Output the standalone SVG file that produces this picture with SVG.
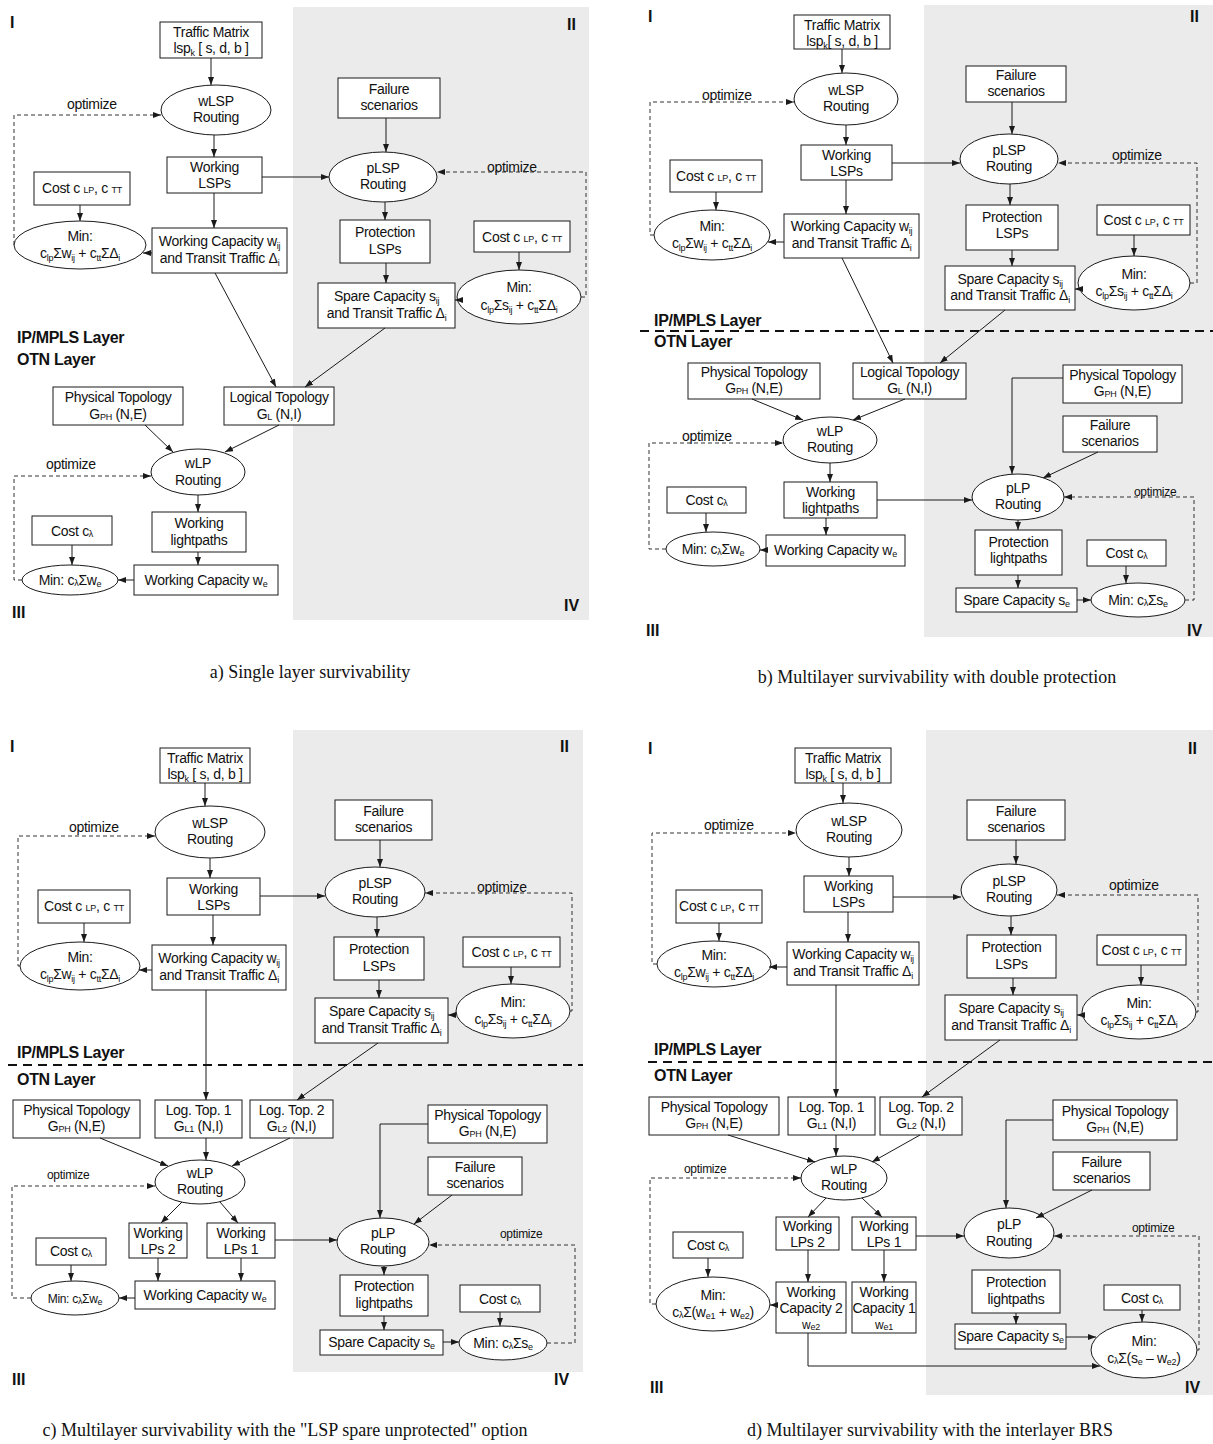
<svg xmlns="http://www.w3.org/2000/svg" width="1213" height="1444" viewBox="0 0 1213 1444">
<style>
.n rect,.n ellipse{fill:#fff;stroke:#1a1a1a;stroke-width:1}
text{font-family:"Liberation Sans",Arial,sans-serif;font-size:14px;fill:#111}
.n text{text-anchor:middle;letter-spacing:-0.3px}
.s{font-size:9px}
.q{font-weight:bold;font-size:16px}
.ly{font-weight:bold;font-size:16px;letter-spacing:-0.3px}
.o{font-size:14px;letter-spacing:-0.3px}
.os{font-size:12px;letter-spacing:-0.3px}
.sm{font-size:12px}
.cap{font-family:"Liberation Serif","Times New Roman",serif;font-size:18px;text-anchor:middle}
.bg{fill:#ebebeb}
.c path{fill:none;stroke:#1a1a1a;stroke-width:1;marker-end:url(#ah)}
.c path.d{stroke:#333;stroke-dasharray:4 3}
.lay{stroke:#111;stroke-width:2;stroke-dasharray:9 6}
</style>
<defs>
<marker id="ah" markerUnits="userSpaceOnUse" markerWidth="8" markerHeight="6" refX="8" refY="3" orient="auto"><path d="M0,0 L8,3 L0,6 z" fill="#1a1a1a"/></marker>
</defs>
<rect width="1213" height="1444" fill="#fff"/>

<!-- ===== PANEL A ===== -->
<g id="panel-a-bg">
<rect class="bg" x="293" y="7" width="296" height="613"/>
<text class="q" x="10" y="28">I</text>
<text class="q" x="567" y="30">II</text>
<text class="q" x="12" y="618">III</text>
<text class="q" x="564" y="611">IV</text>
<text class="ly" x="17" y="343">IP/MPLS  Layer</text>
<text class="ly" x="17" y="365">OTN  Layer</text>
<text class="o" x="67" y="109">optimize</text>
<text class="o" x="487" y="172">optimize</text>
<text class="o" x="46" y="469">optimize</text>
<text class="cap" x="310" y="678">a) Single layer survivability</text>
</g>
<g id="a-traffic" class="n"><rect x="160" y="22" width="102" height="36"/><text x="211" y="37">Traffic Matrix</text><text x="211" y="53">lsp<tspan class="s" dy="3">k</tspan><tspan dy="-3"> [ s, d, b ]</tspan></text></g>
<g id="a-wlsp" class="n"><ellipse cx="216" cy="110" rx="55" ry="25"/><text x="216" y="106">wLSP</text><text x="216" y="122">Routing</text></g>
<g id="a-wlsps" class="n"><rect x="167" y="157" width="95" height="36"/><text x="214.5" y="172">Working</text><text x="214.5" y="188">LSPs</text></g>
<g id="a-fail" class="n"><rect x="338" y="78" width="102" height="40"/><text x="389" y="94">Failure</text><text x="389" y="110">scenarios</text></g>
<g id="a-plsp" class="n"><ellipse cx="383" cy="177" rx="54" ry="25"/><text x="383" y="173">pLSP</text><text x="383" y="189">Routing</text></g>
<g id="a-cost1" class="n"><rect x="34" y="172" width="96" height="33"/><text x="82" y="193">Cost c <tspan class="s">LP</tspan>, c <tspan class="s">TT</tspan></text></g>
<g id="a-min1" class="n"><ellipse cx="80" cy="245" rx="66" ry="24"/><text x="80" y="241">Min:</text><text x="80" y="258">c<tspan class="s" dy="3">lp</tspan><tspan dy="-3">Σw</tspan><tspan class="s" dy="3">ij</tspan><tspan dy="-3"> + c</tspan><tspan class="s" dy="3">tt</tspan><tspan dy="-3">ΣΔ</tspan><tspan class="s" dy="3">i</tspan></text></g>
<g id="a-wc" class="n"><rect x="152" y="228" width="135" height="45"/><text x="219.5" y="246">Working Capacity w<tspan class="s" dy="3">ij</tspan></text><text x="219.5" y="263">and Transit Traffic Δ<tspan class="s" dy="3">i</tspan></text></g>
<g id="a-prot" class="n"><rect x="340" y="220" width="90" height="43"/><text x="385" y="237">Protection</text><text x="385" y="254">LSPs</text></g>
<g id="a-cost2" class="n"><rect x="474" y="221" width="96" height="31"/><text x="522" y="242">Cost c <tspan class="s">LP</tspan>, c <tspan class="s">TT</tspan></text></g>
<g id="a-min2" class="n"><ellipse cx="519" cy="297" rx="62" ry="27"/><text x="519" y="292">Min:</text><text x="519" y="310">c<tspan class="s" dy="3">lp</tspan><tspan dy="-3">Σs</tspan><tspan class="s" dy="3">ij</tspan><tspan dy="-3"> + c</tspan><tspan class="s" dy="3">tt</tspan><tspan dy="-3">ΣΔ</tspan><tspan class="s" dy="3">i</tspan></text></g>
<g id="a-spare" class="n"><rect x="318" y="283" width="137" height="45"/><text x="386.5" y="301">Spare Capacity s<tspan class="s" dy="3">ij</tspan></text><text x="386.5" y="318">and Transit Traffic Δ<tspan class="s" dy="3">i</tspan></text></g>
<g id="a-phys" class="n"><rect x="53" y="387" width="130" height="38"/><text x="118" y="402">Physical Topology</text><text x="118" y="419">G<tspan class="s" dy="1">PH</tspan><tspan dy="-1"> (N,E)</tspan></text></g>
<g id="a-log" class="n"><rect x="224" y="387" width="110" height="38"/><text x="279" y="402">Logical Topology</text><text x="279" y="419">G<tspan class="s" dy="1">L</tspan><tspan dy="-1"> (N,I)</tspan></text></g>
<g id="a-wlp" class="n"><ellipse cx="198" cy="472" rx="47" ry="23"/><text x="198" y="468">wLP</text><text x="198" y="485">Routing</text></g>
<g id="a-wlps" class="n"><rect x="152" y="512" width="94" height="40"/><text x="199" y="528">Working</text><text x="199" y="545">lightpaths</text></g>
<g id="a-costl" class="n"><rect x="32" y="516" width="80" height="29"/><text x="72" y="536">Cost c<tspan class="s" dy="1">λ</tspan></text></g>
<g id="a-minl" class="n"><ellipse cx="70" cy="580" rx="48" ry="15"/><text x="70" y="585">Min: c<tspan class="s" dy="1">λ</tspan><tspan dy="-1">Σw</tspan><tspan class="s" dy="2">e</tspan></text></g>
<g id="a-wce" class="n"><rect x="134" y="565" width="144" height="30"/><text x="206" y="585">Working Capacity w<tspan class="s" dy="2">e</tspan></text></g>

<!-- ===== PANEL B ===== -->
<g id="panel-b-bg">
<rect class="bg" x="924" y="5" width="289" height="632"/>
<text class="q" x="648" y="22">I</text>
<text class="q" x="1190" y="22">II</text>
<text class="q" x="646" y="636">III</text>
<text class="q" x="1187" y="636">IV</text>
<text class="ly" x="654" y="326">IP/MPLS  Layer</text>
<text class="ly" x="654" y="347">OTN  Layer</text>
<line class="lay" x1="640" y1="331" x2="1213" y2="331"/>
<text class="o" x="702" y="100">optimize</text>
<text class="o" x="1112" y="160">optimize</text>
<text class="o" x="682" y="441">optimize</text>
<text class="os" x="1134" y="496">optimize</text>
<text class="cap" x="937" y="683">b) Multilayer survivability with double protection</text>
</g>
<g id="b-traffic" class="n"><rect x="794" y="15" width="96" height="34"/><text x="842" y="30">Traffic Matrix</text><text x="842" y="46">lsp<tspan class="s" dy="3">k</tspan><tspan dy="-3">[ s, d, b ]</tspan></text></g>
<g id="b-wlsp" class="n"><ellipse cx="846" cy="99" rx="52" ry="26"/><text x="846" y="95">wLSP</text><text x="846" y="111">Routing</text></g>
<g id="b-wlsps" class="n"><rect x="801" y="145" width="91" height="35"/><text x="846.5" y="160">Working</text><text x="846.5" y="176">LSPs</text></g>
<g id="b-fail" class="n"><rect x="966" y="66" width="100" height="36"/><text x="1016" y="80">Failure</text><text x="1016" y="96">scenarios</text></g>
<g id="b-plsp" class="n"><ellipse cx="1009" cy="159" rx="49" ry="25"/><text x="1009" y="155">pLSP</text><text x="1009" y="171">Routing</text></g>
<g id="b-cost1" class="n"><rect x="670" y="160" width="92" height="32"/><text x="716" y="181">Cost c <tspan class="s">LP</tspan>, c <tspan class="s">TT</tspan></text></g>
<g id="b-min1" class="n"><ellipse cx="712" cy="235" rx="58" ry="25"/><text x="712" y="231">Min:</text><text x="712" y="248">c<tspan class="s" dy="3">lp</tspan><tspan dy="-3">Σw</tspan><tspan class="s" dy="3">ij</tspan><tspan dy="-3"> + c</tspan><tspan class="s" dy="3">tt</tspan><tspan dy="-3">ΣΔ</tspan><tspan class="s" dy="3">i</tspan></text></g>
<g id="b-wc" class="n"><rect x="784" y="214" width="135" height="44"/><text x="851.5" y="231">Working Capacity w<tspan class="s" dy="3">ij</tspan></text><text x="851.5" y="248">and Transit Traffic Δ<tspan class="s" dy="3">i</tspan></text></g>
<g id="b-prot" class="n"><rect x="966" y="205" width="92" height="45"/><text x="1012" y="222">Protection</text><text x="1012" y="238">LSPs</text></g>
<g id="b-cost2" class="n"><rect x="1097" y="205" width="93" height="30"/><text x="1143.5" y="225">Cost c <tspan class="s">LP</tspan>, c <tspan class="s">TT</tspan></text></g>
<g id="b-min2" class="n"><ellipse cx="1134" cy="283" rx="56" ry="27"/><text x="1134" y="279">Min:</text><text x="1134" y="296">c<tspan class="s" dy="3">lp</tspan><tspan dy="-3">Σs</tspan><tspan class="s" dy="3">ij</tspan><tspan dy="-3"> + c</tspan><tspan class="s" dy="3">tt</tspan><tspan dy="-3">ΣΔ</tspan><tspan class="s" dy="3">i</tspan></text></g>
<g id="b-spare" class="n"><rect x="945" y="266" width="130" height="44"/><text x="1010" y="284">Spare Capacity s<tspan class="s" dy="3">ij</tspan></text><text x="1010" y="300">and Transit Traffic Δ<tspan class="s" dy="3">i</tspan></text></g>
<g id="b-phys" class="n"><rect x="688" y="363" width="132" height="36"/><text x="754" y="377">Physical Topology</text><text x="754" y="393">G<tspan class="s" dy="1">PH</tspan><tspan dy="-1"> (N,E)</tspan></text></g>
<g id="b-log" class="n"><rect x="853" y="363" width="113" height="36"/><text x="909.5" y="377">Logical Topology</text><text x="909.5" y="393">G<tspan class="s" dy="1">L</tspan><tspan dy="-1"> (N,I)</tspan></text></g>
<g id="b-phys2" class="n"><rect x="1063" y="365" width="119" height="38"/><text x="1122.5" y="380">Physical Topology</text><text x="1122.5" y="396">G<tspan class="s" dy="1">PH</tspan><tspan dy="-1"> (N,E)</tspan></text></g>
<g id="b-fail2" class="n"><rect x="1063" y="416" width="94" height="36"/><text x="1110" y="430">Failure</text><text x="1110" y="446">scenarios</text></g>
<g id="b-wlp" class="n"><ellipse cx="830" cy="440" rx="47" ry="23"/><text x="830" y="436">wLP</text><text x="830" y="452">Routing</text></g>
<g id="b-wlps" class="n"><rect x="784" y="482" width="93" height="36"/><text x="830.5" y="497">Working</text><text x="830.5" y="513">lightpaths</text></g>
<g id="b-plp" class="n"><ellipse cx="1018" cy="497" rx="46" ry="23"/><text x="1018" y="493">pLP</text><text x="1018" y="509">Routing</text></g>
<g id="b-costl" class="n"><rect x="667" y="487" width="79" height="26"/><text x="706.5" y="505">Cost c<tspan class="s" dy="1">λ</tspan></text></g>
<g id="b-minl" class="n"><ellipse cx="713" cy="549" rx="47" ry="17"/><text x="713" y="554">Min: c<tspan class="s" dy="1">λ</tspan><tspan dy="-1">Σw</tspan><tspan class="s" dy="2">e</tspan></text></g>
<g id="b-wce" class="n"><rect x="766" y="535" width="139" height="31"/><text x="835.5" y="555">Working Capacity w<tspan class="s" dy="2">e</tspan></text></g>
<g id="b-prot2" class="n"><rect x="975" y="530" width="87" height="45"/><text x="1018.5" y="547">Protection</text><text x="1018.5" y="563">lightpaths</text></g>
<g id="b-cost3" class="n"><rect x="1087" y="540" width="79" height="26"/><text x="1126.5" y="558">Cost c<tspan class="s" dy="1">λ</tspan></text></g>
<g id="b-min3" class="n"><ellipse cx="1138" cy="600" rx="47" ry="17"/><text x="1138" y="605">Min: c<tspan class="s" dy="1">λ</tspan><tspan dy="-1">Σs</tspan><tspan class="s" dy="2">e</tspan></text></g>
<g id="b-spare2" class="n"><rect x="956" y="588" width="121" height="24"/><text x="1016.5" y="605">Spare Capacity s<tspan class="s" dy="2">e</tspan></text></g>

<!-- ===== PANEL C ===== -->
<g id="panel-c-bg">
<rect class="bg" x="293" y="730" width="290" height="642"/>
<text class="q" x="10" y="752">I</text>
<text class="q" x="560" y="752">II</text>
<text class="q" x="12" y="1385">III</text>
<text class="q" x="554" y="1385">IV</text>
<text class="ly" x="17" y="1058">IP/MPLS  Layer</text>
<text class="ly" x="17" y="1085">OTN  Layer</text>
<line class="lay" x1="8" y1="1065" x2="583" y2="1065"/>
<text class="o" x="69" y="832">optimize</text>
<text class="o" x="477" y="892">optimize</text>
<text class="os" x="47" y="1179">optimize</text>
<text class="os" x="500" y="1238">optimize</text>
<text class="cap" x="285" y="1436">c) Multilayer survivability with the "LSP spare unprotected" option</text>
</g>
<g id="c-traffic" class="n"><rect x="160" y="748" width="90" height="35"/><text x="205" y="763">Traffic Matrix</text><text x="205" y="779">lsp<tspan class="s" dy="3">k</tspan><tspan dy="-3"> [ s, d, b ]</tspan></text></g>
<g id="c-wlsp" class="n"><ellipse cx="210" cy="832" rx="55" ry="26"/><text x="210" y="828">wLSP</text><text x="210" y="844">Routing</text></g>
<g id="c-wlsps" class="n"><rect x="167" y="878" width="93" height="37"/><text x="213.5" y="894">Working</text><text x="213.5" y="910">LSPs</text></g>
<g id="c-fail" class="n"><rect x="335" y="800" width="97" height="40"/><text x="383.5" y="816">Failure</text><text x="383.5" y="832">scenarios</text></g>
<g id="c-plsp" class="n"><ellipse cx="375" cy="892" rx="50" ry="25"/><text x="375" y="888">pLSP</text><text x="375" y="904">Routing</text></g>
<g id="c-cost1" class="n"><rect x="38" y="890" width="92" height="33"/><text x="84" y="911">Cost c <tspan class="s">LP</tspan>, c <tspan class="s">TT</tspan></text></g>
<g id="c-min1" class="n"><ellipse cx="80" cy="966" rx="60" ry="24"/><text x="80" y="962">Min:</text><text x="80" y="979">c<tspan class="s" dy="3">lp</tspan><tspan dy="-3">Σw</tspan><tspan class="s" dy="3">ij</tspan><tspan dy="-3"> + c</tspan><tspan class="s" dy="3">tt</tspan><tspan dy="-3">ΣΔ</tspan><tspan class="s" dy="3">i</tspan></text></g>
<g id="c-wc" class="n"><rect x="152" y="945" width="134" height="45"/><text x="219" y="963">Working Capacity w<tspan class="s" dy="3">ij</tspan></text><text x="219" y="980">and Transit Traffic Δ<tspan class="s" dy="3">i</tspan></text></g>
<g id="c-prot" class="n"><rect x="334" y="937" width="90" height="43"/><text x="379" y="954">Protection</text><text x="379" y="971">LSPs</text></g>
<g id="c-cost2" class="n"><rect x="463" y="937" width="97" height="30"/><text x="511.5" y="957">Cost c <tspan class="s">LP</tspan>, c <tspan class="s">TT</tspan></text></g>
<g id="c-min2" class="n"><ellipse cx="513" cy="1011" rx="57" ry="27"/><text x="513" y="1007">Min:</text><text x="513" y="1024">c<tspan class="s" dy="3">lp</tspan><tspan dy="-3">Σs</tspan><tspan class="s" dy="3">ij</tspan><tspan dy="-3"> + c</tspan><tspan class="s" dy="3">tt</tspan><tspan dy="-3">ΣΔ</tspan><tspan class="s" dy="3">i</tspan></text></g>
<g id="c-spare" class="n"><rect x="315" y="998" width="133" height="45"/><text x="381.5" y="1016">Spare Capacity s<tspan class="s" dy="3">ij</tspan></text><text x="381.5" y="1033">and Transit Traffic Δ<tspan class="s" dy="3">i</tspan></text></g>
<g id="c-phys" class="n"><rect x="13" y="1100" width="127" height="38"/><text x="76.5" y="1115">Physical Topology</text><text x="76.5" y="1131">G<tspan class="s" dy="1">PH</tspan><tspan dy="-1"> (N,E)</tspan></text></g>
<g id="c-log1" class="n"><rect x="155" y="1100" width="87" height="38"/><text x="198.5" y="1115">Log. Top. 1</text><text x="198.5" y="1131">G<tspan class="s" dy="1">L1</tspan><tspan dy="-1"> (N,I)</tspan></text></g>
<g id="c-log2" class="n"><rect x="250" y="1100" width="83" height="38"/><text x="291.5" y="1115">Log. Top. 2</text><text x="291.5" y="1131">G<tspan class="s" dy="1">L2</tspan><tspan dy="-1"> (N,I)</tspan></text></g>
<g id="c-phys2" class="n"><rect x="428" y="1105" width="119" height="38"/><text x="487.5" y="1120">Physical Topology</text><text x="487.5" y="1136">G<tspan class="s" dy="1">PH</tspan><tspan dy="-1"> (N,E)</tspan></text></g>
<g id="c-fail2" class="n"><rect x="428" y="1157" width="94" height="38"/><text x="475" y="1172">Failure</text><text x="475" y="1188">scenarios</text></g>
<g id="c-wlp" class="n"><ellipse cx="200" cy="1182" rx="45" ry="22"/><text x="200" y="1178">wLP</text><text x="200" y="1194">Routing</text></g>
<g id="c-lps2" class="n"><rect x="129" y="1223" width="58" height="35"/><text x="158" y="1238">Working</text><text x="158" y="1254">LPs 2</text></g>
<g id="c-lps1" class="n"><rect x="207" y="1223" width="68" height="35"/><text x="241" y="1238">Working</text><text x="241" y="1254">LPs 1</text></g>
<g id="c-plp" class="n"><ellipse cx="383" cy="1242" rx="46" ry="24"/><text x="383" y="1238">pLP</text><text x="383" y="1254">Routing</text></g>
<g id="c-costl" class="n"><rect x="36" y="1238" width="70" height="27"/><text x="71" y="1256">Cost c<tspan class="s" dy="1">λ</tspan></text></g>
<g id="c-minl" class="n"><ellipse cx="75" cy="1298" rx="44" ry="17"/><text class="sm" x="75" y="1303">Min: c<tspan class="s" dy="1">λ</tspan><tspan dy="-1">Σw</tspan><tspan class="s" dy="2">e</tspan></text></g>
<g id="c-wce" class="n"><rect x="135" y="1281" width="140" height="28"/><text x="205" y="1300">Working Capacity w<tspan class="s" dy="2">e</tspan></text></g>
<g id="c-prot2" class="n"><rect x="340" y="1275" width="88" height="41"/><text x="384" y="1291">Protection</text><text x="384" y="1308">lightpaths</text></g>
<g id="c-cost3" class="n"><rect x="460" y="1285" width="80" height="27"/><text x="500" y="1304">Cost c<tspan class="s" dy="1">λ</tspan></text></g>
<g id="c-min3" class="n"><ellipse cx="503" cy="1343" rx="44" ry="17"/><text x="503" y="1348">Min: c<tspan class="s" dy="1">λ</tspan><tspan dy="-1">Σs</tspan><tspan class="s" dy="2">e</tspan></text></g>
<g id="c-spare2" class="n"><rect x="320" y="1330" width="123" height="25"/><text x="381.5" y="1347">Spare Capacity s<tspan class="s" dy="2">e</tspan></text></g>

<!-- ===== PANEL D ===== -->
<g id="panel-d-bg">
<rect class="bg" x="926" y="730" width="287" height="665"/>
<text class="q" x="648" y="754">I</text>
<text class="q" x="1188" y="754">II</text>
<text class="q" x="650" y="1393">III</text>
<text class="q" x="1185" y="1393">IV</text>
<text class="ly" x="654" y="1055">IP/MPLS  Layer</text>
<text class="ly" x="654" y="1081">OTN  Layer</text>
<line class="lay" x1="648" y1="1062" x2="1213" y2="1062"/>
<text class="o" x="704" y="830">optimize</text>
<text class="o" x="1109" y="890">optimize</text>
<text class="os" x="684" y="1173">optimize</text>
<text class="os" x="1132" y="1232">optimize</text>
<text class="cap" x="930" y="1436">d) Multilayer survivability with the interlayer BRS</text>
</g>
<g id="d-traffic" class="n"><rect x="795" y="748" width="96" height="35"/><text x="843" y="763">Traffic Matrix</text><text x="843" y="779">lsp<tspan class="s" dy="3">k</tspan><tspan dy="-3"> [ s, d, b ]</tspan></text></g>
<g id="d-wlsp" class="n"><ellipse cx="849" cy="830" rx="53" ry="27"/><text x="849" y="826">wLSP</text><text x="849" y="842">Routing</text></g>
<g id="d-wlsps" class="n"><rect x="804" y="876" width="89" height="36"/><text x="848.5" y="891">Working</text><text x="848.5" y="907">LSPs</text></g>
<g id="d-fail" class="n"><rect x="967" y="800" width="98" height="40"/><text x="1016" y="816">Failure</text><text x="1016" y="832">scenarios</text></g>
<g id="d-plsp" class="n"><ellipse cx="1009" cy="890" rx="48" ry="26"/><text x="1009" y="886">pLSP</text><text x="1009" y="902">Routing</text></g>
<g id="d-cost1" class="n"><rect x="676" y="890" width="86" height="33"/><text x="719" y="911">Cost c <tspan class="s">LP</tspan>, c <tspan class="s">TT</tspan></text></g>
<g id="d-min1" class="n"><ellipse cx="714" cy="964" rx="57" ry="23"/><text x="714" y="960">Min:</text><text x="714" y="977">c<tspan class="s" dy="3">lp</tspan><tspan dy="-3">Σw</tspan><tspan class="s" dy="3">ij</tspan><tspan dy="-3"> + c</tspan><tspan class="s" dy="3">tt</tspan><tspan dy="-3">ΣΔ</tspan><tspan class="s" dy="3">i</tspan></text></g>
<g id="d-wc" class="n"><rect x="787" y="942" width="132" height="43"/><text x="853" y="959">Working Capacity w<tspan class="s" dy="3">ij</tspan></text><text x="853" y="976">and Transit Traffic Δ<tspan class="s" dy="3">i</tspan></text></g>
<g id="d-prot" class="n"><rect x="967" y="935" width="89" height="43"/><text x="1011.5" y="952">Protection</text><text x="1011.5" y="969">LSPs</text></g>
<g id="d-cost2" class="n"><rect x="1097" y="935" width="89" height="30"/><text x="1141.5" y="955">Cost c <tspan class="s">LP</tspan>, c <tspan class="s">TT</tspan></text></g>
<g id="d-min2" class="n"><ellipse cx="1139" cy="1012" rx="57" ry="27"/><text x="1139" y="1008">Min:</text><text x="1139" y="1025">c<tspan class="s" dy="3">lp</tspan><tspan dy="-3">Σs</tspan><tspan class="s" dy="3">ij</tspan><tspan dy="-3"> + c</tspan><tspan class="s" dy="3">tt</tspan><tspan dy="-3">ΣΔ</tspan><tspan class="s" dy="3">i</tspan></text></g>
<g id="d-spare" class="n"><rect x="945" y="995" width="132" height="45"/><text x="1011" y="1013">Spare Capacity s<tspan class="s" dy="3">ij</tspan></text><text x="1011" y="1030">and Transit Traffic Δ<tspan class="s" dy="3">i</tspan></text></g>
<g id="d-phys" class="n"><rect x="649" y="1097" width="130" height="38"/><text x="714" y="1112">Physical Topology</text><text x="714" y="1128">G<tspan class="s" dy="1">PH</tspan><tspan dy="-1"> (N,E)</tspan></text></g>
<g id="d-log1" class="n"><rect x="788" y="1097" width="87" height="38"/><text x="831.5" y="1112">Log. Top. 1</text><text x="831.5" y="1128">G<tspan class="s" dy="1">L1</tspan><tspan dy="-1"> (N,I)</tspan></text></g>
<g id="d-log2" class="n"><rect x="880" y="1097" width="82" height="38"/><text x="921" y="1112">Log. Top. 2</text><text x="921" y="1128">G<tspan class="s" dy="1">L2</tspan><tspan dy="-1"> (N,I)</tspan></text></g>
<g id="d-phys2" class="n"><rect x="1053" y="1100" width="124" height="40"/><text x="1115" y="1116">Physical Topology</text><text x="1115" y="1132">G<tspan class="s" dy="1">PH</tspan><tspan dy="-1"> (N,E)</tspan></text></g>
<g id="d-fail2" class="n"><rect x="1053" y="1152" width="97" height="38"/><text x="1101.5" y="1167">Failure</text><text x="1101.5" y="1183">scenarios</text></g>
<g id="d-wlp" class="n"><ellipse cx="844" cy="1178" rx="43" ry="22"/><text x="844" y="1174">wLP</text><text x="844" y="1190">Routing</text></g>
<g id="d-lps2" class="n"><rect x="776" y="1217" width="63" height="33"/><text x="807.5" y="1231">Working</text><text x="807.5" y="1247">LPs 2</text></g>
<g id="d-lps1" class="n"><rect x="852" y="1217" width="64" height="33"/><text x="884" y="1231">Working</text><text x="884" y="1247">LPs 1</text></g>
<g id="d-plp" class="n"><ellipse cx="1009" cy="1233" rx="45" ry="25"/><text x="1009" y="1229">pLP</text><text x="1009" y="1246">Routing</text></g>
<g id="d-costl" class="n"><rect x="673" y="1232" width="70" height="26"/><text x="708" y="1250">Cost c<tspan class="s" dy="1">λ</tspan></text></g>
<g id="d-minl" class="n"><ellipse cx="713" cy="1304" rx="57" ry="27"/><text x="713" y="1300">Min:</text><text x="713" y="1317">c<tspan class="s" dy="1">λ</tspan><tspan dy="-1">Σ(w</tspan><tspan class="s" dy="2">e1</tspan><tspan dy="-2"> + w</tspan><tspan class="s" dy="2">e2</tspan><tspan dy="-2">)</tspan></text></g>
<g id="d-wc2" class="n"><rect x="776" y="1282" width="70" height="51"/><text x="811" y="1297">Working</text><text x="811" y="1313">Capacity 2</text><text x="811" y="1329" class="sm">w<tspan class="s" dy="1">e2</tspan></text></g>
<g id="d-wc1" class="n"><rect x="852" y="1282" width="64" height="51"/><text x="884" y="1297">Working</text><text x="884" y="1313">Capacity 1</text><text x="884" y="1329" class="sm">w<tspan class="s" dy="1">e1</tspan></text></g>
<g id="d-prot2" class="n"><rect x="972" y="1270" width="88" height="43"/><text x="1016" y="1287">Protection</text><text x="1016" y="1304">lightpaths</text></g>
<g id="d-cost3" class="n"><rect x="1104" y="1285" width="76" height="25"/><text x="1142" y="1303">Cost c<tspan class="s" dy="1">λ</tspan></text></g>
<g id="d-min3" class="n"><ellipse cx="1144" cy="1350" rx="53" ry="28"/><text x="1144" y="1346">Min:</text><text x="1144" y="1363">c<tspan class="s" dy="1">λ</tspan><tspan dy="-1">Σ(s</tspan><tspan class="s" dy="2">e</tspan><tspan dy="-2"> – w</tspan><tspan class="s" dy="2">e2</tspan><tspan dy="-2">)</tspan></text></g>
<g id="d-spare2" class="n"><rect x="955" y="1324" width="111" height="25"/><text x="1010.5" y="1341">Spare Capacity s<tspan class="s" dy="2">e</tspan></text></g>

<!-- ===== CONNECTORS ===== -->
<g id="connectors" class="c">
<!-- A -->
<path d="M211,58 V85"/>
<path d="M214,135 V157"/>
<path d="M262,177 H329"/>
<path d="M386,118 V152"/>
<path d="M385,202 V220"/>
<path d="M80,205 V221"/>
<path d="M214,193 V228"/>
<path d="M152,253 H143"/>
<path d="M386,263 V283"/>
<path d="M519,252 V270"/>
<path d="M461,300 H455"/>
<path d="M215,273 L276,387"/>
<path d="M385,328 L305,387"/>
<path d="M145,425 L173,452"/>
<path d="M279,425 L225,452"/>
<path d="M198,495 V512"/>
<path d="M72,545 V565"/>
<path d="M198,552 V565"/>
<path d="M134,580 H118"/>
<path class="d" d="M14,245 V115 H161"/>
<path class="d" d="M581,297 H586 V172 H437"/>
<path class="d" d="M22,580 H14 V476 H151"/>
<!-- B -->
<path d="M842,49 V73"/>
<path d="M846,125 V145"/>
<path d="M892,163 H960"/>
<path d="M1012,102 V134"/>
<path d="M1010,184 V205"/>
<path d="M716,192 V210"/>
<path d="M846,180 V214"/>
<path d="M784,242 H768"/>
<path d="M1012,250 V266"/>
<path d="M1134,235 V256"/>
<path d="M1081,289 H1075"/>
<path d="M842,258 L893,363"/>
<path d="M1005,310 L940,363"/>
<path d="M752,399 L803,420"/>
<path d="M905,399 L853,420"/>
<path d="M830,463 V482"/>
<path d="M706,513 V532"/>
<path d="M826,518 V535"/>
<path d="M766,550 H760"/>
<path d="M877,500 H972"/>
<path d="M1063,378 H1012 V474"/>
<path d="M1098,452 L1043,478"/>
<path d="M1018,520 V530"/>
<path d="M1126,566 V583"/>
<path d="M1018,575 V588"/>
<path d="M1077,600 H1091"/>
<path class="d" d="M654,235 H650 V102 H794"/>
<path class="d" d="M1190,283 H1197 V163 H1058"/>
<path class="d" d="M666,549 H649 V443 H783"/>
<path class="d" d="M1185,600 H1194 V497 H1064"/>
<!-- C -->
<path d="M205,783 V806"/>
<path d="M210,858 V878"/>
<path d="M260,896 H325"/>
<path d="M380,840 V867"/>
<path d="M377,917 V937"/>
<path d="M84,923 V942"/>
<path d="M213,915 V945"/>
<path d="M152,970 H139"/>
<path d="M379,980 V998"/>
<path d="M511,967 V984"/>
<path d="M456,1015 H448"/>
<path d="M206,990 V1100"/>
<path d="M378,1043 L297,1100"/>
<path d="M100,1138 L168,1166"/>
<path d="M206,1138 V1160"/>
<path d="M290,1138 L232,1166"/>
<path d="M182,1202 L161,1223"/>
<path d="M220,1202 L238,1223"/>
<path d="M428,1124 H380 V1218"/>
<path d="M452,1195 L414,1224"/>
<path d="M275,1240 H337"/>
<path d="M158,1258 V1281"/>
<path d="M241,1258 V1281"/>
<path d="M71,1265 V1281"/>
<path d="M135,1298 H119"/>
<path d="M384,1266 V1275"/>
<path d="M384,1316 V1330"/>
<path d="M500,1312 V1326"/>
<path d="M443,1342 H459"/>
<path class="d" d="M20,966 H18 V836 H155"/>
<path class="d" d="M570,1011 H572 V893 H425"/>
<path class="d" d="M31,1298 H12 V1186 H155"/>
<path class="d" d="M547,1343 H575 V1245 H429"/>
<!-- D -->
<path d="M843,783 V803"/>
<path d="M849,857 V876"/>
<path d="M893,897 H961"/>
<path d="M1016,840 V864"/>
<path d="M1011,916 V935"/>
<path d="M719,923 V941"/>
<path d="M848,912 V942"/>
<path d="M787,967 H769"/>
<path d="M1013,978 V995"/>
<path d="M1141,965 V985"/>
<path d="M1084,1015 H1077"/>
<path d="M836,985 V1097"/>
<path d="M1000,1040 L922,1097"/>
<path d="M728,1135 L815,1162"/>
<path d="M836,1135 V1156"/>
<path d="M920,1135 L872,1162"/>
<path d="M826,1198 L808,1217"/>
<path d="M862,1198 L882,1217"/>
<path d="M1053,1120 H1006 V1208"/>
<path d="M1092,1190 L1036,1218"/>
<path d="M916,1236 H964"/>
<path d="M808,1250 V1282"/>
<path d="M884,1250 V1282"/>
<path d="M708,1258 V1277"/>
<path d="M776,1305 H770"/>
<path d="M808,1333 V1366 H1100"/>
<path d="M1016,1313 V1324"/>
<path d="M1142,1310 V1322"/>
<path d="M1066,1337 H1096"/>
<path class="d" d="M657,964 H652 V833 H796"/>
<path class="d" d="M1196,1012 H1198 V895 H1057"/>
<path class="d" d="M656,1304 H650 V1178 H801"/>
<path class="d" d="M1197,1350 H1199 V1236 H1054"/>
</g>
</svg>
